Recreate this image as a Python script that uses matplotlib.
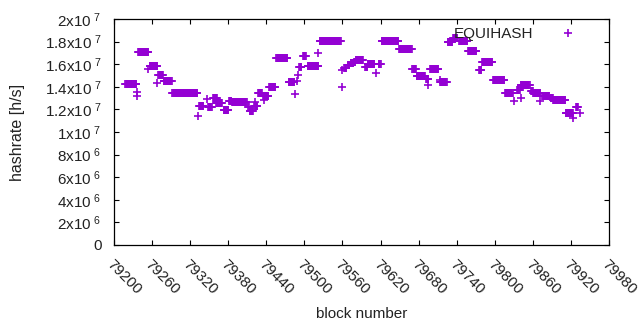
import numpy as np
import matplotlib
matplotlib.use('Agg')
import matplotlib.pyplot as plt
from matplotlib.ticker import FuncFormatter, MultipleLocator

# Plateaus of constant estimated hashrate: first block, last block, value (x1e6 h/s)
run_start = [79218, 79238, 79256, 79270, 79278, 79292, 79334, 79348, 79356, 79361,
             79373, 79381, 79386, 79411, 79414, 79421, 79427, 79435, 79445, 79456,
             79475, 79492, 79498, 79505, 79524, 79563, 79568, 79573, 79578, 79581,
             79596, 79600, 79617, 79622, 79649, 79670, 79677, 79692, 79698, 79714,
             79726, 79734, 79744, 79758, 79775, 79780, 79797, 79816, 79835, 79841,
             79857, 79861, 79875, 79888, 79892, 79912, 79928]
run_end = [79235, 79254, 79268, 79277, 79291, 79331, 79341, 79354, 79362, 79370,
           79380, 79385, 79409, 79412, 79419, 79426, 79433, 79443, 79454, 79473,
           79484, 79495, 79502, 79522, 79557, 79566, 79571, 79577, 79580, 79592,
           79599, 79610, 79620, 79648, 79669, 79676, 79690, 79695, 79711, 79724,
           79733, 79741, 79757, 79771, 79779, 79796, 79815, 79828, 79839, 79855,
           79860, 79872, 79886, 79891, 79911, 79923, 79931]
run_value = [14.22, 17.05, 15.84, 15.04, 14.48, 13.48, 12.33, 12.24, 13.00, 12.54,
             11.97, 12.71, 12.63, 12.19, 11.89, 12.33, 13.42, 13.21, 14.00, 16.52,
             14.45, 15.78, 16.73, 15.84, 18.05, 15.64, 15.93, 16.08, 16.22, 16.37,
             15.78, 15.99, 15.99, 18.05, 17.32, 15.55, 14.96, 14.66, 15.55, 14.40,
             18.00, 18.30, 18.05, 17.20, 15.45, 16.17, 14.60, 13.42, 13.72, 14.16,
             13.63, 13.42, 13.21, 13.04, 12.83, 11.65, 12.24]

# Isolated blocks
single_block = [79236, 79236, 79253, 79268, 79332, 79347, 79422, 79437, 79485, 79489,
                79490, 79522, 79559, 79560, 79613, 79695, 79713, 79830, 79842, 79872,
                79923, 79934]
single_value = [13.57, 13.19, 15.58, 14.31, 11.39, 12.92, 12.63, 12.83, 13.36, 14.54,
                15.04, 16.96, 13.96, 15.49, 15.19, 14.16, 14.60, 12.74, 12.98, 12.77,
                11.21, 11.65]

x_ticks = list(range(79200, 79981, 60))
y_ticks = [0, 2e6, 4e6, 6e6, 8e6, 1e7, 1.2e7, 1.4e7, 1.6e7, 1.8e7, 2e7]

blocks = []
values = []
for s, e, v in zip(run_start, run_end, run_value):
    for b in range(s, e + 1):
        blocks.append(b)
        values.append(v * 1e6)
for b, v in zip(single_block, single_value):
    blocks.append(b)
    values.append(v * 1e6)

plt.rcParams['font.family'] = ['Liberation Sans', 'DejaVu Sans']
plt.rcParams['mathtext.default'] = 'regular'
plt.rcParams['font.size'] = 11

fig = plt.figure(figsize=(6.4, 3.3), dpi=100)
ax = fig.add_axes([114 / 640, 85 / 330, 495 / 640, 226 / 330])

color = '#9400D3'
ax.plot(blocks, values, linestyle='none', marker='+', markersize=5.8,
        markeredgewidth=1.2, color=color, label='EQUIHASH')

ax.set_xlim(79200, 79980)
ax.set_ylim(0, 2e7)
ax.set_xticks(x_ticks)
ax.set_yticks(y_ticks)


def yfmt(v, pos):
    if v == 0:
        return '0'
    exp = int(np.floor(np.log10(v) + 1e-9))
    mant = v / 10 ** exp
    ms = ('%.1f' % mant).rstrip('0').rstrip('.')
    return ms + 'x10$^{\\ %d}$' % exp


ax.yaxis.set_major_formatter(FuncFormatter(yfmt))
ax.set_xticklabels([str(t) for t in x_ticks], rotation=-45, ha='left', va='top',
                   rotation_mode='anchor')

ax.tick_params(direction='in', length=3.5, width=0.8, top=True, right=True,
               colors='black', labelcolor='#222222')
ax.tick_params(axis='x', pad=9)
ax.tick_params(axis='y', pad=9)
for sp in ax.spines.values():
    sp.set_linewidth(0.9)

ax.set_xlabel('block number', color='#222222', labelpad=7)
ax.set_ylabel('hashrate [h/s]', color='#222222', labelpad=14, fontsize=11.5)

leg = ax.legend(loc='upper right', bbox_to_anchor=(0.973, 1.012), frameon=False,
                markerfirst=False, handlelength=2.2, handletextpad=1.2,
                borderaxespad=0.3)
for t in leg.get_texts():
    t.set_color('#222222')

fig.savefig('out.png', dpi=100)
